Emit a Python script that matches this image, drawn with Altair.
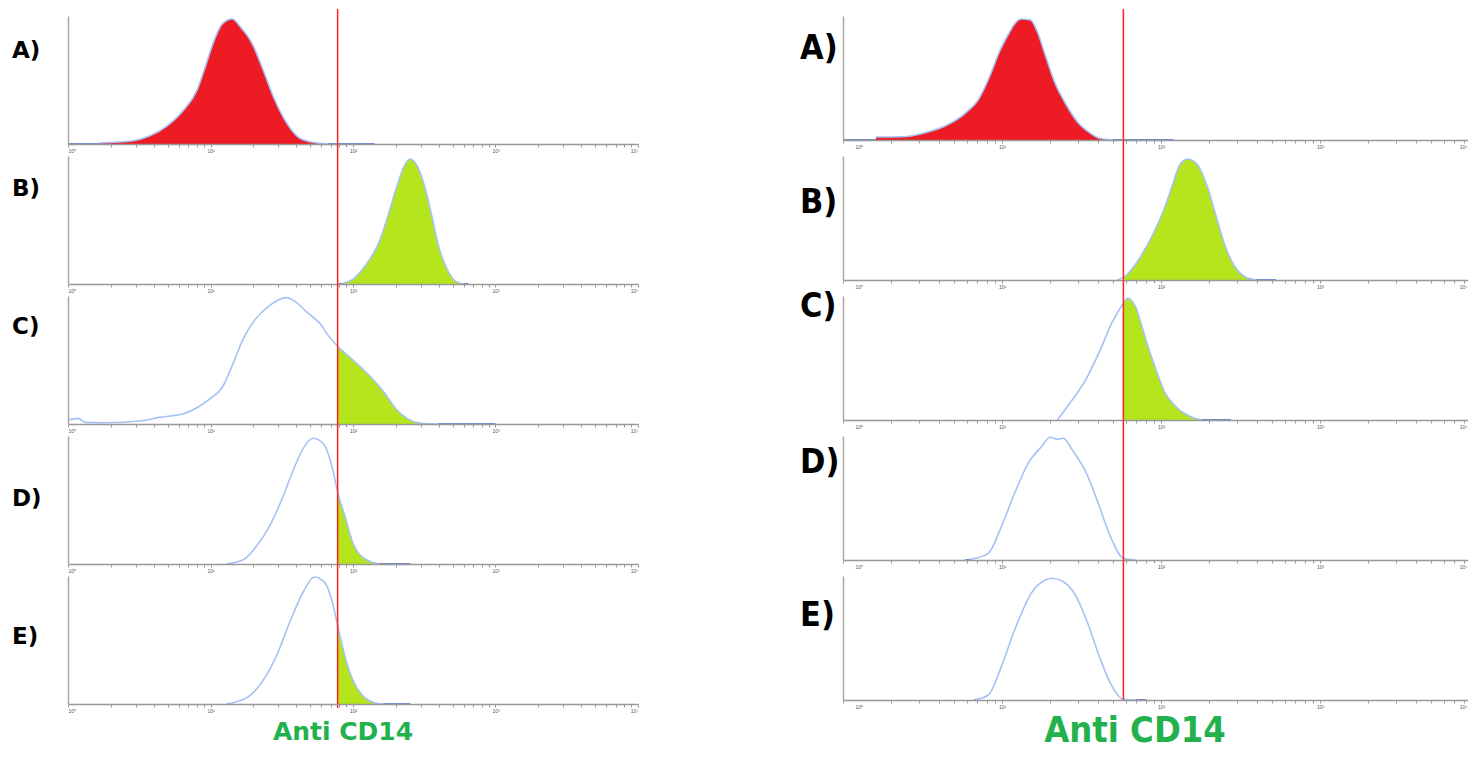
import altair as alt
import pandas as pd

# ---------------- data ----------------
PANEL_LABELS = ["A)", "B)", "C)", "D)", "E)"]
X_TITLE = "Anti CD14"
GATE_LEFT = 78
GATE_RIGHT = 58

# left column  (x = fluorescence intensity, y = relative count)
left_a_x = [1.67, 2.87, 3.77, 4.97, 6.53, 8.07, 9.18, 10.6, 12.1, 14.2, 16.4, 19.6, 23.0, 27.6, 34.0, 41.2, 50.8, 66.8]
left_a_y = [1, 3.3, 8.3, 18.3, 35, 55, 78, 105, 122, 127, 118, 102, 78, 48, 22, 7, 2, 0]
left_b_x = [85.3, 100.3, 124, 153, 174, 201, 229, 252, 282, 321, 360, 396, 451, 522, 594]
left_b_y = [0.7, 5, 20, 43, 67, 97, 120, 127, 120, 97, 67, 40, 17, 3, 0]
left_c_x = [1.0, 1.18, 1.32, 1.80, 3.32, 4.37, 6.53, 8.07, 9.81, 12.1, 14.9, 17.0, 20.3, 25.8, 34.0, 38.7,
            47.7, 58.9, 67.0, 78.7, 100, 132, 163, 201, 244, 301, 396]
left_c_y = [4, 5.7, 1.7, 1.3, 3.3, 6.7, 10.7, 16.7, 25, 37.3, 66.7, 86.7, 105, 120, 128.3, 125,
            113.3, 101.7, 90, 78.3, 65, 48.3, 33.3, 15, 5, 0.7, 0]
left_d_x = [12.9, 17.0, 20.9, 25.8, 31.4, 38.7, 44.8, 52.6, 62.8, 71.5, 78.7, 88.2, 100, 124, 153]
left_d_y = [0, 4.3, 17.7, 37.7, 64.3, 97.7, 117.7, 127.7, 121, 97.7, 71, 47.7, 21, 4.3, 0]
left_e_x = [12.9, 18.4, 24.2, 29.4, 36.2, 44.8, 53.4, 62.8, 71.5, 78.7, 88.2, 100, 116, 141, 163]
left_e_y = [0, 7.3, 27.3, 50.7, 84, 114, 129, 124, 104, 77.3, 47.3, 24, 9, 1.3, 0]
left_extents = [(1.0, 141), (78.7, 644), (1.0, 1000), (12.9, 252), (12.9, 252)]

# right column
right_a_x = [1.61, 2.39, 3.29, 4.52, 5.87, 7.19, 8.44, 9.62, 11.0, 12.0, 13.2, 15.1, 16.7, 18.7, 21.4, 25.4,
             29.8, 36.0, 41.0, 49.5]
right_a_y = [3, 3.3, 7.3, 15, 26.7, 41.7, 65, 88, 106, 116, 121, 120, 108, 85, 58, 35, 18, 6.7, 1.7, 0]
right_b_x = [53.3, 60.7, 73.3, 88.5, 105, 120, 131, 147, 170, 194, 221, 252, 287, 336, 395]
right_b_y = [0, 5, 21.7, 45, 71.7, 98.3, 115, 121, 115, 95, 65, 35, 15, 3.3, 0]
right_c_x = [22.3, 26.2, 34.0, 41.0, 49.5, 58.1, 61.5, 69.1, 75.4, 83.5, 92.4, 105, 124, 149, 180]
right_c_y = [0, 15, 41.7, 68.3, 98.3, 116.7, 121.7, 113.3, 95, 71.7, 51.7, 28.3, 13.3, 4.3, 0]
right_d_x = [6.31, 8.20, 9.90, 12.0, 14.6, 17.7, 20.1, 22.3, 24.3, 27.7, 34.0, 41.0, 48.1, 58.1, 69.1]
right_d_y = [0.7, 6.7, 33.3, 66.7, 96.7, 113.3, 122.7, 120.7, 121.7, 110, 86.7, 53.3, 23.3, 1.7, 0]
right_e_x = [6.89, 8.20, 9.90, 12.0, 15.5, 18.7, 20.7, 24.3, 28.5, 34.0, 41.0, 48.1, 58.1, 69.1]
right_e_y = [0.7, 5, 33.3, 70, 108.3, 120, 121.7, 118.3, 106.7, 80, 43.3, 16.7, 0.7, 0]
right_extents = [(1.0, 120), (53.3, 527), (22.3, 275), (5.87, 69.1), (6.69, 81.1)]

# log axis tick positions and labels
TICK_VALUES = [1, 2, 3, 4, 5, 6, 7, 8, 9,
               10, 20, 30, 40, 50, 60, 70, 80, 90,
               100, 200, 300, 400, 500, 600, 700, 800, 900,
               1000, 2000, 3000, 4000, 5000, 6000, 7000, 8000, 9000, 10000]
LABEL_EXPR = ("datum.value == 1 ? '10\u2070' : datum.value == 10 ? '10\u00b9' : "
              "datum.value == 100 ? '10\u00b2' : datum.value == 1000 ? '10\u00b3' : "
              "datum.value == 10000 ? '10\u2074' : ''")

# ---------------- styling / layout ----------------
RED = "#ED1C24"
GREEN = "#B5E61D"
OUTLINE = "#A6C1F5"
BASE_BLUE = "#3F5FC8"
GATE_RED = "#FF1F1F"
TITLE_GREEN = "#22B14C"

ROW_GAP = 12
L_W, L_H, L_YMAX = 570, 128, 130
R_H, R_YMAX = 124, 124
L_LABEL_Y = [35, 33, 31, 63, 61]
R_LABEL_Y = [33, 47, 11, 27, 40]
RIGHT_FONT = "Liberation Sans Narrow, DejaVu Sans Condensed, Liberation Sans"

one = pd.DataFrame({"k": [0]})


def panel(xs, ys, ext, gate, fill_color, from_gate, w, h, ymax,
          label, label_x, label_y, label_font, label_size,
          rule_top, rule_bottom, flush_offset=0,
          title=None, title_xy=None, title_font=None, title_size=None):
    df = pd.DataFrame({"x": xs, "y": ys})
    xscale = alt.Scale(type="log", domain=[1, 10000], nice=False)
    yscale = alt.Scale(domain=[0, ymax], nice=False, zero=True)
    xaxis = alt.Axis(values=TICK_VALUES, labelExpr=LABEL_EXPR, title=None, grid=False,
                     tickSize=3, tickColor="#999999", domainColor="#999999", domainWidth=1.5,
                     labelFontSize=5, labelColor="#555555", labelPadding=1, zindex=1,
                     labelFlush=True, labelFlushOffset=flush_offset)
    yaxis = alt.Axis(title=None, labels=False, ticks=False, grid=False,
                     domainColor="#AAAAAA", domainWidth=1.5, zindex=1)
    X = alt.X("x:Q", scale=xscale, axis=xaxis)
    Y = alt.Y("y:Q", scale=yscale, axis=yaxis)

    layers = [alt.Chart(df).mark_area(color=fill_color, interpolate="monotone").encode(x=X, y=Y)]
    if from_gate:
        layers.append(
            alt.Chart(one).mark_rect(color="white").encode(
                x=alt.datum(1), x2=alt.datum(gate), y=alt.value(0), y2=alt.value(h)))
    seg = pd.DataFrame({"x": [ext[0], xs[-1]], "x1": [xs[0], ext[1]]})
    layers.append(
        alt.Chart(seg).mark_rule(color=BASE_BLUE, strokeWidth=1.5).encode(
            x=alt.X("x:Q", scale=xscale, axis=xaxis), x2="x1:Q", y=alt.value(h)))
    layers.append(
        alt.Chart(df).mark_line(color=OUTLINE, strokeWidth=1.6, interpolate="monotone").encode(x=X, y=Y))
    layers.append(
        alt.Chart(one).mark_rule(color=GATE_RED, strokeWidth=1.5).encode(
            x=alt.datum(gate), y=alt.value(-rule_top), y2=alt.value(h + rule_bottom)))
    layers.append(
        alt.Chart(one).mark_text(text=label, align="left", baseline="middle", font=label_font,
                                 fontSize=label_size, fontWeight="bold", color="black").encode(
            x=alt.value(label_x), y=alt.value(label_y)))
    if title:
        layers.append(
            alt.Chart(one).mark_text(text=title, align="center", baseline="alphabetic", font=title_font,
                                     fontSize=title_size, fontWeight="bold", color=TITLE_GREEN).encode(
                x=alt.value(title_xy[0]), y=alt.value(title_xy[1])))
    return alt.layer(*layers).properties(width=w, height=h)


left_series = [(left_a_x, left_a_y), (left_b_x, left_b_y), (left_c_x, left_c_y),
               (left_d_x, left_d_y), (left_e_x, left_e_y)]
right_series = [(right_a_x, right_a_y), (right_b_x, right_b_y), (right_c_x, right_c_y),
                (right_d_x, right_d_y), (right_e_x, right_e_y)]


def build(r_w, col_gap, pad, r_flush):
    cells = []
    for i in range(5):
        red = i == 0
        lx, ly = left_series[i]
        rx, ry = right_series[i]
        last = i == 4
        cells.append(panel(
            lx, ly, left_extents[i], GATE_LEFT, RED if red else GREEN, not red, L_W, L_H, L_YMAX,
            PANEL_LABELS[i], -56, L_LABEL_Y[i], "DejaVu Sans", 23,
            7 if i == 0 else ROW_GAP, 4 if last else 0,
            title=X_TITLE if last else None, title_xy=(275, 164),
            title_font="DejaVu Sans", title_size=25))
        cells.append(panel(
            rx, ry, right_extents[i], GATE_RIGHT, RED if red else GREEN, not red, r_w, R_H, R_YMAX,
            PANEL_LABELS[i], -43, R_LABEL_Y[i], RIGHT_FONT, 34,
            7 if i == 0 else ROW_GAP + (L_H - R_H), 1 if last else 0,
            flush_offset=r_flush,
            title=X_TITLE if last else None, title_xy=(292, 166),
            title_font=RIGHT_FONT, title_size=36))
    return alt.concat(
        *cells, columns=2, spacing={"row": ROW_GAP, "column": col_gap}, bounds="flush", align="each"
    ).properties(padding=pad).configure_view(stroke=None)


try:
    # right column runs to the window edge: let the page clip it instead of widening the page
    chart = build(636, 205, {"left": 4, "top": 0, "right": -12, "bottom": 0}, -12)
    chart.save("out.html", embed_options={"renderer": "svg", "actions": False})
except Exception:
    chart = build(626, 205, {"left": 4, "top": 0, "right": 0, "bottom": 0}, 0)
    chart.save("out.html", embed_options={"renderer": "svg", "actions": False})
